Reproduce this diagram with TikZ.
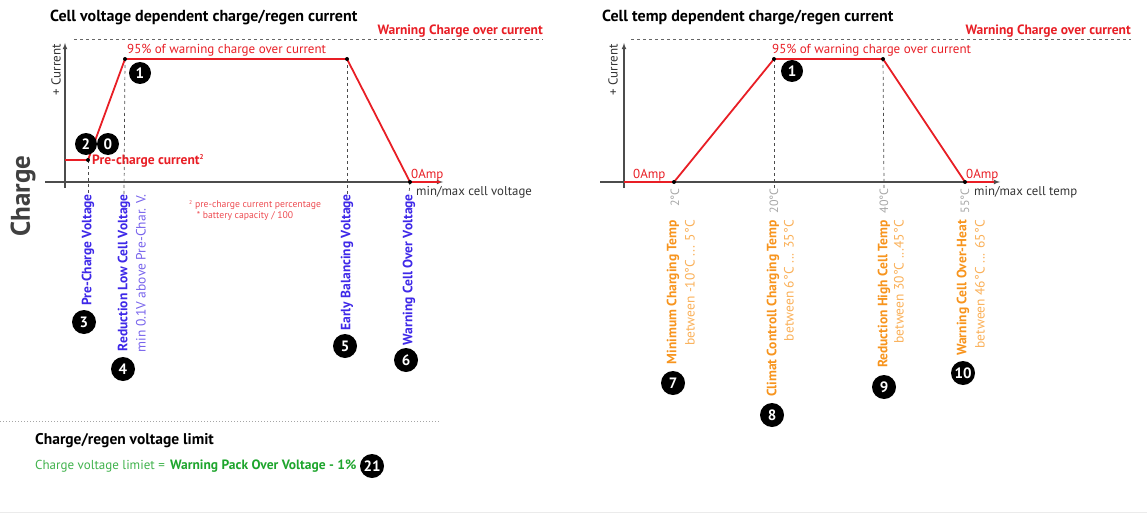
\documentclass[tikz,border=0pt]{standalone}
\usepackage{fontspec}
\setmainfont{PT Sans}

\definecolor{curvered}{RGB}{232,30,37}
\definecolor{labelblue}{RGB}{62,40,232}
\definecolor{noteblue}{RGB}{120,100,236}
\definecolor{temporange}{RGB}{247,148,29}
\definecolor{noteorange}{RGB}{250,176,88}
\definecolor{limitgreen}{RGB}{30,165,45}

\tikzset{
	axis/.style={draw=black!70, line width=1.1pt, -latex},
	curve/.style={draw=curvered, line width=1.8pt, line join=round},
	guide/.style={draw=black!70, dashed, line width=0.7pt},
	dot/.style={circle, fill=black, inner sep=0pt, minimum size=4pt},
	badge/.style={circle, fill=black, text=white, inner sep=0pt, minimum size=24pt, font=\bfseries\fontsize{15}{15}\selectfont},
	vlabel/.style={rotate=90, anchor=east, inner sep=0pt, font=\bfseries\fontsize{13.5}{14}\selectfont},
	vnote/.style={rotate=90, anchor=east, inner sep=0pt, font=\fontsize{13.5}{14}\selectfont},
	heading/.style={anchor=west, inner sep=0pt, font=\bfseries\fontsize{16}{16}\selectfont},
	redtext/.style={inner sep=0pt, text=curvered, font=\fontsize{13}{13}\selectfont},
	warntext/.style={anchor=east, inner sep=0pt, text=curvered, font=\bfseries\fontsize{13.5}{14}\selectfont},
	axistext/.style={anchor=west, inner sep=0pt, text=black!80, font=\fontsize{12.8}{13}\selectfont},
	tempnote/.style={rotate=90, anchor=east, inner sep=0pt, text=black!35, font=\fontsize{12}{12}\selectfont},
}

\begin{document}
\begin{tikzpicture}[x=1pt, y=-1pt]
	\useasboundingbox (0,0) rectangle (1147,516);

	% --- cell voltage chart ---
	\coordinate (pre0) at (65,160);
	\coordinate (pre) at (88,160);
	\coordinate (low) at (125,59);
	\coordinate (bal) at (347,59);
	\coordinate (ovr) at (410,182);
	\coordinate (ovrend) at (440,182);

	\node[heading] (vtitle) at (50,17) {Cell voltage dependent charge/regen current};
	\draw[guide, draw=black!60] (74,39.5) -- (543,39.5);
	\node[warntext] (vwarn) at (543,31) {Warning Charge over current};

	\draw[axis] (45,182) -- (443,182);
	\draw[axis] (65,188) -- (65,43);
	\node[rotate=90, inner sep=0pt, text=black!80, font=\fontsize{13}{13}\selectfont] (vcur) at (56,70) {+ Current};
	\node[axistext] (vx) at (416,192) {min/max cell voltage};

	\node[vlabel, text=labelblue] (lpre) at (88,194) {Pre-Charge Voltage};
	\node[vlabel, text=labelblue] (llow) at (124,194) {Reduction Low Cell Voltage};
	\node[vnote, text=noteblue] (nlow) at (141,194) {min 0.1V above Pre-Char. V.};
	\node[vlabel, text=labelblue] (lbal) at (347,194) {Early Balancing Voltage};
	\node[vlabel, text=labelblue] (lovr) at (409,194) {Warning Cell Over Voltage};

	\draw[guide] (pre) -- (lpre.east);
	\draw[guide] (low) -- (llow.east);
	\draw[guide] (bal) -- (lbal.east);
	\draw[guide] (ovr) -- (lovr.east);

	\draw[curve] (pre0) -- (pre) -- (low) -- (bal) -- (ovr) -- (ovrend);
	\foreach \p in {pre, low, bal, ovr}
		\node[dot] at (\p) {};

	\node[redtext, anchor=west] (v95) at (127,50) {95\% of warning charge over current};
	\node[redtext, anchor=west, font=\bfseries\fontsize{13.5}{14}\selectfont] (vpre) at (92,161) {Pre-charge current\textsuperscript{\fontsize{7}{7}\selectfont 2}};
	\node[redtext, anchor=south west, font=\fontsize{13}{13}\selectfont] (vamp) at (411,181) {0Amp};
	\node[redtext, text=curvered!80, font=\fontsize{9.7}{10}\selectfont] (fn1) at (255,205) {\textsuperscript{\fontsize{5.5}{5.5}\selectfont 2} pre-charge current percentage};
	\node[redtext, text=curvered!80, font=\fontsize{9.7}{10}\selectfont] (fn2) at (245,216) {* battery capacity / 100};

	\node[badge, minimum size=22pt] (b1) at (140,73) {1};
	\node[badge, minimum size=22pt] (b2) at (86,144) {2};
	\node[badge, minimum size=22pt] (b0) at (108,144) {0};
	\node[badge] (b3) at (84,322) {3};
	\node[badge] (b4) at (123,369) {4};
	\node[badge] (b5) at (345,346) {5};
	\node[badge] (b6) at (406,360) {6};

	\node[rotate=90, inner sep=0pt, text=black!75, font=\bfseries\fontsize{27}{27}\selectfont] (charge) at (23,196) {Charge};

	% --- cell temp chart ---
	\coordinate (rt0) at (624,182);
	\coordinate (tmin) at (674,182);
	\coordinate (tclim) at (774,59);
	\coordinate (thigh) at (883,59);
	\coordinate (theat) at (965,182);
	\coordinate (tend) at (994,182);

	\node[heading] (ttitle) at (602,17) {Cell temp dependent charge/regen current};
	\draw[guide, draw=black!60] (631,39.5) -- (1131,39.5);
	\node[warntext] (twarn) at (1131,31) {Warning Charge over current};

	\draw[axis] (600,182) -- (1000,182);
	\draw[axis] (624,188) -- (624,43);
	\node[rotate=90, inner sep=0pt, text=black!80, font=\fontsize{13}{13}\selectfont] (tcur) at (613,70) {+ Current};
	\node[axistext] (tx) at (974,192) {min/max cell temp};

	\node[tempnote] (g2) at (675,188) {2°C};
	\node[tempnote] (g20) at (774,188) {20°C};
	\node[tempnote] (g40) at (884,188) {40°C};
	\node[tempnote] (g55) at (965,188) {55°C};

	\draw[guide] (tclim) -- (g20.east);
	\draw[guide] (thigh) -- (g40.east);

	\node[vlabel, text=temporange] (lmin) at (673,220) {Minimum Charging Temp};
	\node[vnote, text=noteorange] (nmin) at (690,220) {between -10°C ... 5°C};
	\node[vlabel, text=temporange] (lclim) at (773,220) {Climat Controll Charging Temp};
	\node[vnote, text=noteorange] (nclim) at (789,220) {between 6°C ... 35°C};
	\node[vlabel, text=temporange] (lhigh) at (884,220) {Reduction High Cell Temp};
	\node[vnote, text=noteorange] (nhigh) at (899,220) {between 30°C ...45°C};
	\node[vlabel, text=temporange] (lheat) at (963,220) {Warning Cell Over-Heat};
	\node[vnote, text=noteorange] (nheat) at (980,220) {between 46°C ... 65°C};

	\draw[curve] (rt0) -- (tmin) -- (tclim) -- (thigh) -- (theat) -- (tend);
	\foreach \p in {tmin, tclim, thigh, theat}
		\node[dot] at (\p) {};

	\node[redtext, anchor=west] (t95) at (772,50) {95\% of warning charge over current};
	\node[redtext, anchor=south west] (tamp1) at (633,181) {0Amp};
	\node[redtext, anchor=south west] (tamp2) at (966,181) {0Amp};

	\node[badge, minimum size=22pt] (b1t) at (792,71) {1};
	\node[badge] (b7) at (673,383) {7};
	\node[badge] (b8) at (772,415) {8};
	\node[badge] (b9) at (884,387) {9};
	\node[badge] (b10) at (963,373) {10};

	% --- voltage limit ---
	\draw[black!35, dotted, line width=1pt] (0,421) -- (440,421);
	\node[heading, font=\bfseries\fontsize{15.5}{16}\selectfont] (ltitle) at (35,441) {Charge/regen voltage limit};
	\node[anchor=west, inner sep=0pt, text=limitgreen!85, font=\fontsize{13}{13}\selectfont] (leq) at (35,466) {Charge voltage limiet =};
	\node[anchor=west, inner sep=0pt, text=limitgreen, font=\bfseries\fontsize{13.5}{14}\selectfont] (lpack) at (170,466) {Warning Pack Over Voltage - 1\%};
	\node[badge] (b21) at (372,466) {21};
	\draw[black!8, line width=1pt] (0,512) -- (1147,512);
\end{tikzpicture}
\end{document}
